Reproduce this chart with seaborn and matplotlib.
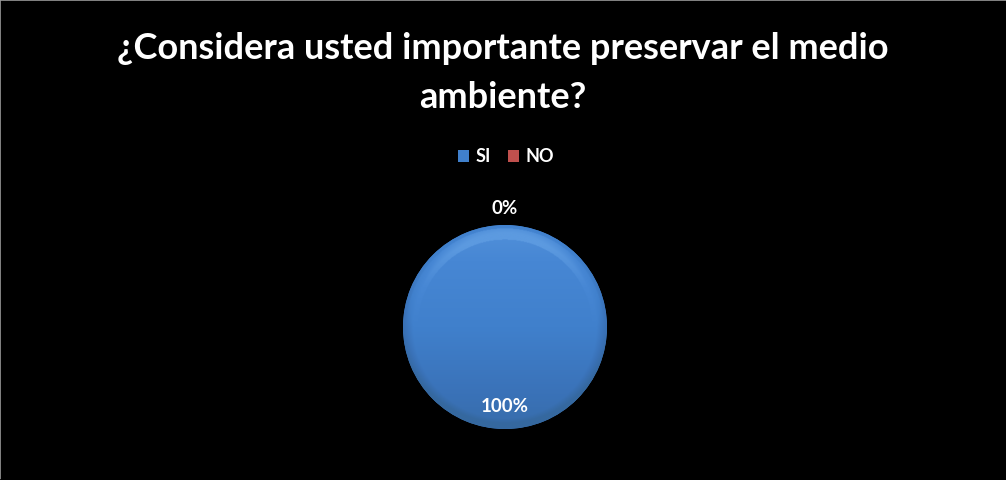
import matplotlib
matplotlib.use("Agg")
import matplotlib.pyplot as plt
import matplotlib.patches as mpatches
from matplotlib.colors import LinearSegmentedColormap
import seaborn as sns
import numpy as np

# Survey answers
categories = ["SI", "NO"]
percentages = [100, 0]
colors = ["#4080CC", "#C0504D"]
title = "¿Considera usted importante preservar el medio\nambiente?"

sns.set_theme(style="dark")
plt.rcParams["font.family"] = ["Lato", "DejaVu Sans"]

W, H = 1006, 480
fig = plt.figure(figsize=(W / 100, H / 100), dpi=100, facecolor="black")

# Thin frame around the chart area
border = fig.add_axes([0, 0, 1, 1])
border.set_facecolor("black")
border.set_xticks([])
border.set_yticks([])
for side, sp in border.spines.items():
    sp.set_color("#9a9a9a" if side in ("left", "top") else "black")
    sp.set_linewidth(1.2)

fig.text(503 / W, 1 - 73 / H, title, ha="center", va="center", color="white",
         fontsize=26, fontweight="bold", linespacing=1.62)

# Pie axes positioned around the drawing centre
cx, cy, rx, ry = 505, 327, 102, 106
ax = fig.add_axes([(cx - rx) / W, 1 - (cy + ry) / H, 2 * rx / W, 2 * ry / H])
ax.set_facecolor("none")
wedges, texts, autotexts = ax.pie(
    percentages, colors=colors, startangle=90, counterclock=False,
    autopct=lambda p: f"{p:.0f}%", pctdistance=0.78,
    wedgeprops=dict(linewidth=0),
    textprops=dict(color="white", fontsize=13.5, fontweight="bold"),
)
for val, t in zip(percentages, autotexts):
    if val == 0:
        t.set_position((0, 1.16))
ax.set_xlim(-1, 1)
ax.set_ylim(-1, 1)
ax.set_aspect("auto")

# Shaded fill: lighter at the top, darker towards the bottom and rim
shade = LinearSegmentedColormap.from_list(
    "shade", ["#35689F", "#3A72B8", "#4080CC", "#4787D4", "#5C9AE0"])
yy, xx = np.mgrid[-1:1:300j, -1:1:300j]
rr = np.sqrt(xx ** 2 + yy ** 2)
field = 0.5 + 0.38 * yy
field = np.where(rr > 0.9, field - (rr - 0.9) * 3.0, field)
top_band = (yy > 0) & (rr > 0.86) & (rr < 0.97)
field = np.where(top_band, field + 0.25 * yy, field)
for w, val in zip(wedges, percentages):
    if val > 0:
        im = ax.imshow(field, extent=(-1, 1, -1, 1), origin="lower", cmap=shade,
                       vmin=0, vmax=1, interpolation="bilinear", zorder=w.get_zorder() + 0.1)
        im.set_clip_path(w)
for t in autotexts:
    t.set_zorder(5)

handles = [mpatches.Patch(facecolor=c, edgecolor="none") for c in colors]
leg = fig.legend(handles, categories, loc="center", bbox_to_anchor=(506 / W, 1 - 157 / H),
                 ncol=2, frameon=False, handlelength=0.6, handleheight=0.6,
                 handletextpad=0.35, columnspacing=1.0,
                 prop=dict(weight="bold", size=13))
for t in leg.get_texts():
    t.set_color("white")

fig.savefig("out.png", dpi=100, facecolor="black")
